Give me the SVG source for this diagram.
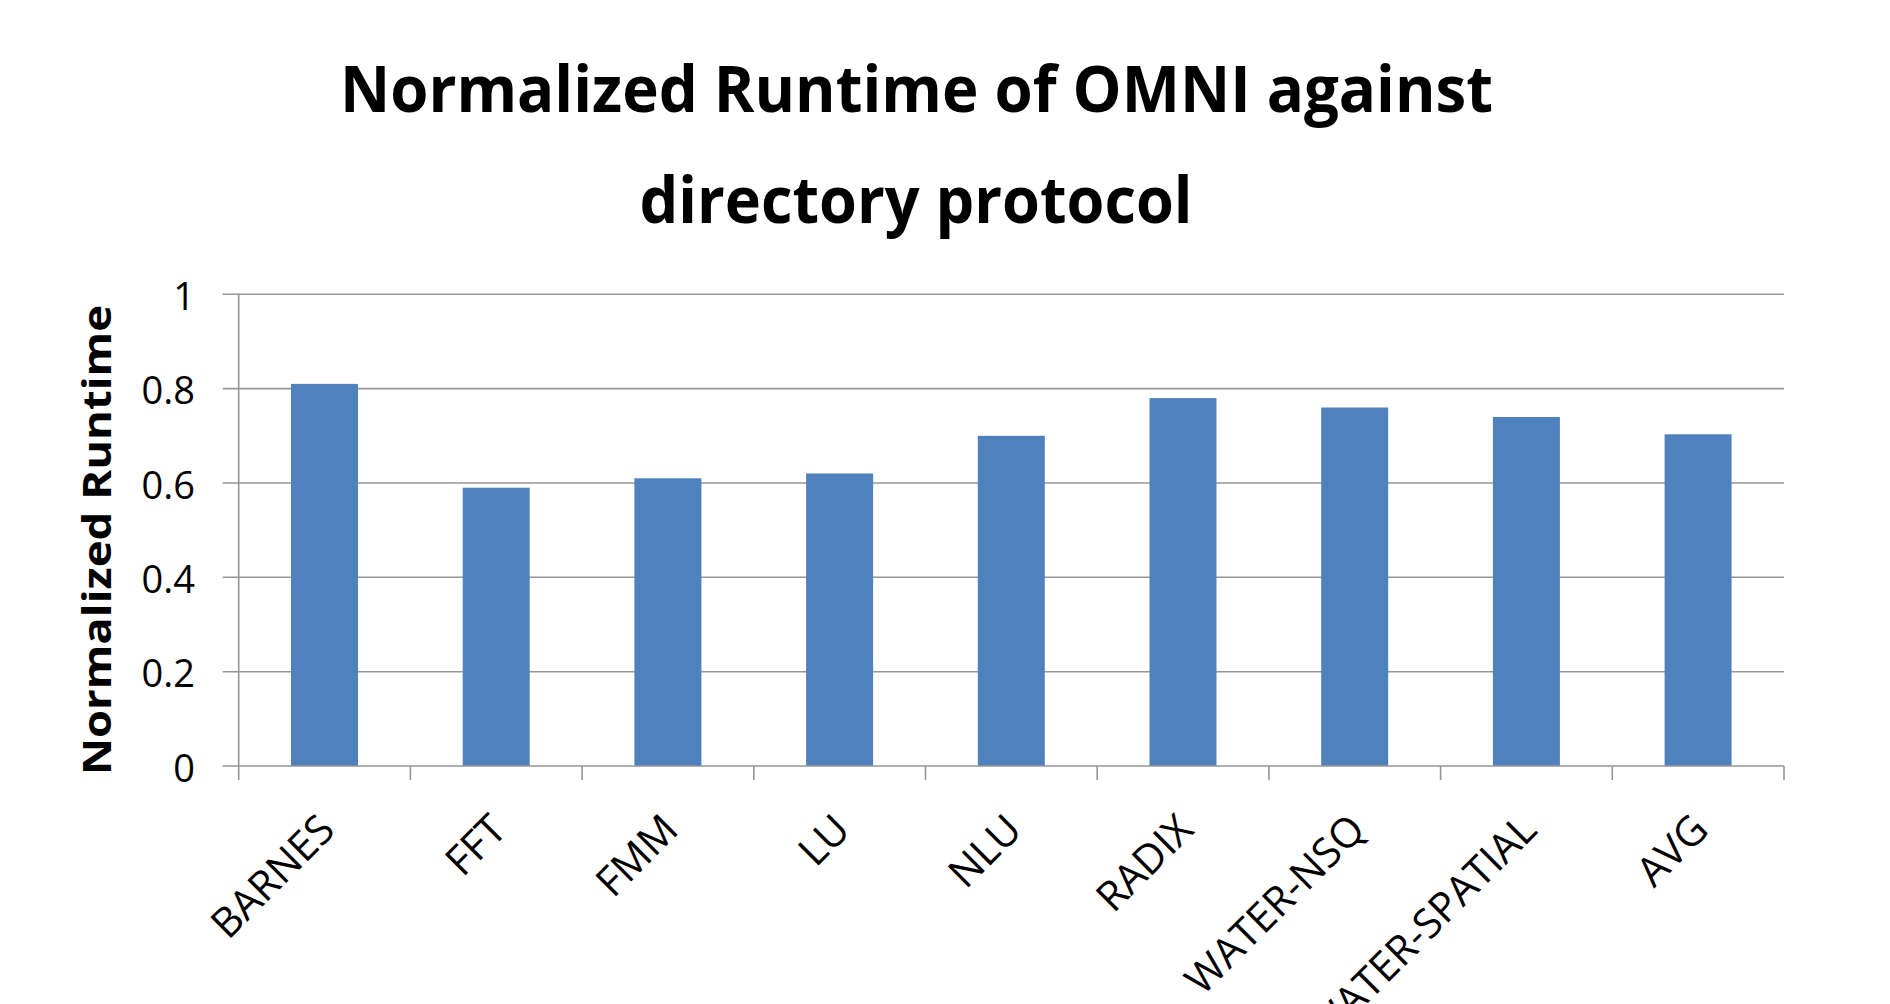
<svg xmlns="http://www.w3.org/2000/svg" width="1890" height="1004" viewBox="0 0 1890 1004">
<style>
.grid{stroke:#969696;stroke-width:1.6;fill:none}
.bar{fill:#4F81BD}
.ylab{font-family:"Open Sans","Noto Sans",sans-serif;font-size:38px;fill:#000;text-anchor:end}
.xlab{font-family:"Open Sans","Noto Sans",sans-serif;font-size:41px;fill:#000;text-anchor:end}
.title{font-family:"Open Sans","Noto Sans",sans-serif;font-size:64px;font-weight:bold;fill:#000;text-anchor:middle}
.atitle{font-family:"Open Sans","Noto Sans",sans-serif;font-size:40px;font-weight:bold;fill:#000;text-anchor:middle}
</style>
<rect width="1890" height="1004" fill="#fff"/>
<g id="title">
<text class="title" x="916.5" y="112" textLength="1153" lengthAdjust="spacingAndGlyphs">Normalized Runtime of OMNI against</text>
<text class="title" x="916" y="223" textLength="553" lengthAdjust="spacingAndGlyphs">directory protocol</text>
</g>
<g id="axis-title">
<text class="atitle" transform="translate(111,540) rotate(-90)" textLength="470" lengthAdjust="spacingAndGlyphs">Normalized Runtime</text>
</g>
<g id="grid">
<line class="grid" x1="222.7" y1="294.3" x2="1784" y2="294.3"/>
<line class="grid" x1="222.7" y1="388.6" x2="1784" y2="388.6"/>
<line class="grid" x1="222.7" y1="483" x2="1784" y2="483"/>
<line class="grid" x1="222.7" y1="577.3" x2="1784" y2="577.3"/>
<line class="grid" x1="222.7" y1="671.7" x2="1784" y2="671.7"/>
</g>
<g id="y-labels">
<text class="ylab" x="195" y="310">1</text>
<text class="ylab" x="195" y="404.3">0.8</text>
<text class="ylab" x="195" y="498.7">0.6</text>
<text class="ylab" x="195" y="593">0.4</text>
<text class="ylab" x="195" y="687.4">0.2</text>
<text class="ylab" x="195" y="781.7">0</text>
</g>
<g id="bars">
<rect id="bar-barnes" class="bar" x="291" y="383.9" width="67" height="382.1"/>
<rect id="bar-fft" class="bar" x="462.7" y="487.7" width="67" height="278.3"/>
<rect id="bar-fmm" class="bar" x="634.4" y="478.3" width="67" height="287.7"/>
<rect id="bar-lu" class="bar" x="806.1" y="473.5" width="67" height="292.5"/>
<rect id="bar-nlu" class="bar" x="977.8" y="435.8" width="67" height="330.2"/>
<rect id="bar-radix" class="bar" x="1149.5" y="398.1" width="67" height="367.9"/>
<rect id="bar-water-nsq" class="bar" x="1321.2" y="407.5" width="67" height="358.5"/>
<rect id="bar-water-spatial" class="bar" x="1492.9" y="417" width="67" height="349"/>
<rect id="bar-avg" class="bar" x="1664.6" y="434.3" width="67" height="331.7"/>
</g>
<g id="axes">
<line class="grid" x1="238.7" y1="294.3" x2="238.7" y2="780"/>
<line class="grid" x1="222.7" y1="766" x2="1784" y2="766"/>
<path class="grid" d="M410.4 766V780M582.1 766V780M753.8 766V780M925.5 766V780M1097.2 766V780M1268.9 766V780M1440.6 766V780M1612.3 766V780M1784 766V780"/>
</g>
<g id="x-labels">
<text class="xlab" transform="translate(337,832) rotate(-45)">BARNES</text>
<text class="xlab" transform="translate(508.7,832) rotate(-45)">FFT</text>
<text class="xlab" transform="translate(680.4,832) rotate(-45)">FMM</text>
<text class="xlab" transform="translate(852.1,832) rotate(-45)">LU</text>
<text class="xlab" transform="translate(1023.8,832) rotate(-45)">NLU</text>
<text class="xlab" transform="translate(1195.5,832) rotate(-45)">RADIX</text>
<text class="xlab" transform="translate(1367.2,832) rotate(-45)">WATER-NSQ</text>
<text class="xlab" transform="translate(1538.9,832) rotate(-45)">WATER-SPATIAL</text>
<text class="xlab" transform="translate(1710.6,832) rotate(-45)">AVG</text>
</g>
</svg>
